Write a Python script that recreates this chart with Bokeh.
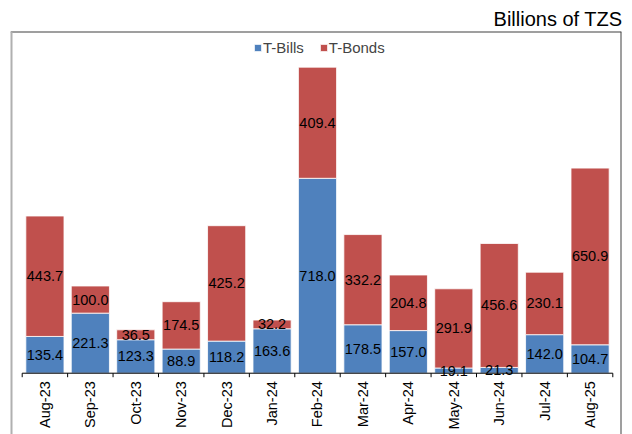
import math
from bokeh.plotting import figure
from bokeh.models import ColumnDataSource, Range1d, Legend, LegendItem
from bokeh.core.properties import value
from bokeh.embed import file_html
from bokeh.resources import INLINE

months = ["Aug-23", "Sep-23", "Oct-23", "Nov-23", "Dec-23", "Jan-24", "Feb-24",
          "Mar-24", "Apr-24", "May-24", "Jun-24", "Jul-24", "Aug-25"]
t_bills = [135.4, 221.3, 123.3, 88.9, 118.2, 163.6, 718.0, 178.5, 157.0, 19.1, 21.3, 142.0, 104.7]
t_bonds = [443.7, 100.0, 36.5, 174.5, 425.2, 32.2, 409.4, 332.2, 204.8, 291.9, 456.6, 230.1, 650.9]

BLUE = "#4F81BD"
RED = "#C0504D"
FONT = "Liberation Sans"

n = len(months)
xc = [i + 0.5 for i in range(n)]
bill_mid = [b / 2 for b in t_bills]
bond_mid = [b + d / 2 for b, d in zip(t_bills, t_bonds)]

src = ColumnDataSource(dict(x=xc, month=months, bills=t_bills, bonds=t_bonds,
                            bill_mid=bill_mid, bond_mid=bond_mid,
                            bill_lab=["%.1f" % v for v in t_bills],
                            bond_lab=["%.1f" % v for v in t_bonds]))

W, H = 632, 434
TOP = 31
XS, XE = -0.2575, 13.1915
YS, YE = -225.8, 1258.8

p = figure(width=W, height=H, output_backend="svg", toolbar_location=None,
           x_range=Range1d(XS, XE), y_range=Range1d(YS, YE),
           x_axis_type=None, y_axis_type=None,
           min_border_left=10, min_border_right=11, min_border_top=TOP, min_border_bottom=0)
p.xgrid.visible = False
p.ygrid.visible = False
p.outline_line_color = None
p.background_fill_color = "white"
p.border_fill_color = "white"

p.title.text = "Billions of TZS"
p.title.align = "right"
p.title.text_font = FONT
p.title.text_font_style = "normal"
p.title.text_font_size = "20px"
p.title.text_color = "black"
p.title.standoff = 4
p.title.offset = -1

rs = p.vbar_stack(["bills", "bonds"], x="x", width=0.84, color=[BLUE, RED],
                  line_color="white", line_width=0.8, source=src)

# value labels
p.text(x="x", y="bill_mid", text="bill_lab", source=src, text_align="center",
       text_baseline="middle", text_font=value(FONT), text_font_size="14.5px", text_color="black")
p.text(x="x", y="bond_mid", text="bond_lab", source=src, text_align="center",
       text_baseline="middle", text_font=value(FONT), text_font_size="14.5px", text_color="black")

# x axis drawn inside the frame
upp = (YE - YS) / (H - TOP)
bounds = list(range(n + 1))
p.segment(x0=[0], y0=[0], x1=[n], y1=[0], line_color="black", line_width=1)
p.segment(x0=bounds, y0=[0] * len(bounds), x1=bounds, y1=[-4 * upp] * len(bounds),
          line_color="black", line_width=1)
p.text(x="x", y=0, text="month", source=src, angle=math.pi / 2, y_offset=8,
       text_align="right", text_baseline="middle", text_font=value(FONT),
       text_font_size="14.5px", text_color="black")

# chart-area border (top/right dark, left grey)
p.line(x=[XS, XE], y=[YE, YE], line_color="#404040", line_width=2)
p.line(x=[XE, XE], y=[YS, YE], line_color="#404040", line_width=2)
p.line(x=[XS, XS], y=[YS, YE], line_color="#B0B0B0", line_width=4)

legend = Legend(items=[LegendItem(label="T-Bills", renderers=[rs[0]]),
                       LegendItem(label="T-Bonds", renderers=[rs[1]])],
                orientation="horizontal", location=(243, 378),
                label_text_font=FONT, label_text_font_size="15px",
                glyph_width=9, glyph_height=9, label_standoff=1, spacing=15,
                padding=0, margin=0, border_line_color=None,
                background_fill_alpha=0, label_height=15)
p.add_layout(legend, "center")

open("out.html", "w").write(file_html(p, INLINE))
